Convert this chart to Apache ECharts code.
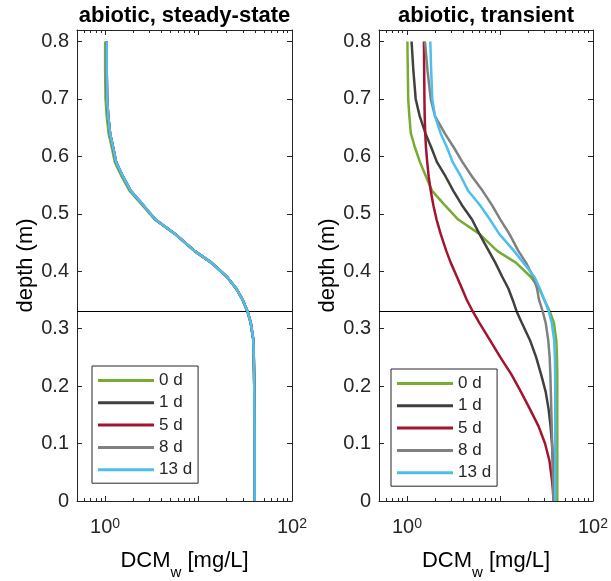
<!DOCTYPE html>
<html>
<head>
<meta charset="utf-8">
<script src="https://cdn.jsdelivr.net/npm/echarts@6/dist/echarts.min.js"></script>
<style>
  html, body { margin: 0; padding: 0; background: #fff; }
  #chart { width: 611px; height: 581px; }
</style>
</head>
<body>
<div id="chart"></div>
<script>
// depth grid (m), shared by every profile
const depth = [0.80, 0.75, 0.70, 0.67, 0.64, 0.615, 0.59, 0.565, 0.54, 0.515, 0.49, 0.465, 0.435, 0.415,
  0.39, 0.37, 0.35, 0.33, 0.31, 0.28, 0.25, 0.22, 0.19, 0.16, 0.13, 0.10, 0.07, 0.04, 0.02, 0];

// steady-state profiles (left)
const ssInit = [1.00, 1.00, 1.01, 1.04, 1.09, 1.18, 1.27, 1.50, 1.83, 2.50, 3.40, 5.6, 9.1, 13.7,
  20.2, 25.2, 29.7, 33.4, 36.2, 38.6, 39.0, 39.3, 39.5, 39.6, 39.7, 39.8, 39.8, 39.8, 39.8, 39.8];
const ssFinal = [1.04, 1.04, 1.05, 1.08, 1.13, 1.22, 1.31, 1.55, 1.88, 2.56, 3.45, 5.6, 9.1, 13.7,
  20.2, 25.2, 29.7, 33.4, 36.2, 38.6, 39.0, 39.3, 39.5, 39.6, 39.7, 39.8, 39.8, 39.8, 39.8, 39.8];

// transient profiles (right)
const tr0 = [1.01, 1.02, 1.03, 1.06, 1.10, 1.22, 1.38, 1.60, 1.86, 2.55, 3.55, 6.0, 9.4, 14.8,
  21.5, 26.3, 30.0, 34.3, 38.0, 40.3, 41.0, 41.3, 41.3, 41.3, 41.3, 41.3, 41.3, 41.3, 41.3, 41.3];
const tr1 = [1.12, 1.17, 1.24, 1.37, 1.58, 1.83, 2.10, 2.60, 3.15, 3.90, 5.0, 6.0, 7.6, 8.9,
  10.6, 12.3, 13.7, 15.1, 17.2, 21.0, 24.5, 27.7, 31.0, 33.3, 35.0, 36.2, 37.0, 37.5, 37.8, 38.0];
const tr5 = [1.52, 1.53, 1.54, 1.55, 1.57, 1.60, 1.65, 1.71, 1.80, 1.92, 2.08, 2.30, 2.65, 2.95,
  3.45, 3.9, 4.4, 5.1, 6.0, 7.8, 10.1, 13.3, 16.8, 21.0, 26.0, 30.5, 34.0, 36.0, 37.0, 37.6];
const tr8 = [1.56, 1.66, 1.80, 2.00, 2.55, 3.20, 3.95, 5.0, 6.5, 8.2, 10.1, 12.6, 15.8, 19.0,
  22.8, 25.0, 26.3, 28.8, 31.0, 33.0, 34.2, 34.8, 35.2, 35.6, 36.0, 36.4, 36.8, 37.1, 37.3, 37.4];
const tr13 = [1.78, 1.82, 1.87, 2.00, 2.30, 2.70, 3.10, 3.80, 4.55, 6.1, 7.8, 9.8, 14.2, 17.8,
  23.5, 26.8, 30.0, 33.5, 36.0, 38.2, 38.9, 39.2, 39.3, 39.3, 39.3, 39.3, 39.3, 39.3, 39.3, 39.3];

const seriesNames = ['0 d', '1 d', '5 d', '8 d', '13 d'];
const colors = ['#77AC30', '#404040', '#A2142F', '#808080', '#4DBEEE'];
const panelTitles = ['abiotic, steady-state', 'abiotic, transient'];
const xLabelExps = [0, 2];
const minorTickVals = [0.6, 0.7, 0.8, 0.9, 2, 3, 4, 5, 6, 7, 8, 9, 20, 30, 40, 50, 60, 70, 80, 90];
const interfaceDepth = 0.33;

const xMin = 0.5, xMax = 100;
const font = '"Liberation Sans", Arial, Helvetica, sans-serif';
const ink = '#262626';

const panels = [
  { left: 77, width: 215, title: panelTitles[0], data: [ssInit, ssFinal, ssFinal, ssFinal, ssFinal], legend: [92, 366] },
  { left: 379, width: 214, title: panelTitles[1], data: [tr0, tr1, tr5, tr8, tr13], legend: [391, 369] }
];
const gridTop = 30, gridHeight = 471;

const chart = echarts.init(document.getElementById('chart'));

const grid = [], xAxis = [], yAxis = [], series = [], legend = [], graphic = [];
const axisLine = { show: true, onZero: false, lineStyle: { color: ink, width: 1 } };
const minorLog = minorTickVals.map(v => Math.log10(v));

panels.forEach((p, gi) => {
  grid.push({ left: p.left, top: gridTop, width: p.width, height: gridHeight, outerBoundsMode: 'none', containLabel: false });

  const mainX = xAxis.length;
  // bottom log axis carrying data and labels
  xAxis.push({
    type: 'log', gridIndex: gi, position: 'bottom', min: xMin, max: xMax, logBase: 10,
    axisLine, splitLine: { show: false },
    axisTick: { inside: true, length: 5, lineStyle: { color: ink } },
    axisLabel: {
      showMinLabel: false, margin: 16, color: ink,
      formatter: v => {
        const l = Math.log10(v), e = Math.round(l);
        return (Math.abs(l - e) < 1e-6 && xLabelExps.includes(e)) ? '{b|10}{s|' + e + '}' : '';
      },
      rich: {
        b: { fontSize: 20, fontFamily: font, color: ink, lineHeight: 20, padding: [9, 0, 0, 0], verticalAlign: 'bottom' },
        s: { fontSize: 14, fontFamily: font, color: ink, lineHeight: 14, verticalAlign: 'top' }
      }
    },
    name: '{n|DCM}{w|w}{n| [mg/L]}', nameLocation: 'middle', nameGap: 49,
    nameTextStyle: {
      rich: {
        n: { fontSize: 22, fontFamily: font, color: '#000', lineHeight: 22, verticalAlign: 'top' },
        w: { fontSize: 15, fontFamily: font, color: '#000', lineHeight: 15, padding: [15, 0, 0, 0], verticalAlign: 'top' }
      }
    }
  });
  // top box axis
  xAxis.push({
    type: 'log', gridIndex: gi, position: 'top', min: xMin, max: xMax, logBase: 10,
    axisLine, splitLine: { show: false }, axisLabel: { show: false },
    axisTick: { inside: true, length: 5, lineStyle: { color: ink } }
  });
  // minor ticks (log-spaced), bottom and top
  ['bottom', 'top'].forEach(pos => {
    xAxis.push({
      type: 'value', gridIndex: gi, position: pos, min: Math.log10(xMin), max: Math.log10(xMax),
      axisLine: { show: false, onZero: false }, splitLine: { show: false }, axisLabel: { show: false },
      axisTick: { inside: true, length: 3, customValues: minorLog, lineStyle: { color: ink } }
    });
  });

  const mainY = yAxis.length;
  yAxis.push({
    type: 'value', gridIndex: gi, position: 'left', min: 0, max: 0.82, interval: 0.1,
    axisLine, splitLine: { show: false },
    axisTick: { inside: true, length: 5, lineStyle: { color: ink } },
    axisLabel: { showMaxLabel: false, margin: 8, fontSize: 20, fontFamily: font, color: ink },
    name: 'depth (m)', nameLocation: 'middle', nameGap: 38,
    nameTextStyle: { fontSize: 22, fontFamily: font, color: '#000' }
  });
  yAxis.push({
    type: 'value', gridIndex: gi, position: 'right', min: 0, max: 0.82, interval: 0.1,
    axisLine, splitLine: { show: false }, axisLabel: { show: false },
    axisTick: { inside: true, length: 5, lineStyle: { color: ink } }
  });

  p.data.forEach((vals, si) => {
    const s = {
      name: seriesNames[si], type: 'line', xAxisIndex: mainX, yAxisIndex: mainY,
      data: vals.map((v, i) => [v, depth[i]]),
      showSymbol: false, symbol: 'none',
      lineStyle: { color: colors[si], width: 2.5 }, itemStyle: { color: colors[si] },
      z: 3 + si
    };
    if (si === 0) {
      s.markLine = {
        silent: true, symbol: ['none', 'none'], label: { show: false },
        lineStyle: { color: '#000', width: 1, type: 'solid' },
        data: [{ yAxis: interfaceDepth }]
      };
    }
    series.push(s);
  });

  legend.push({
    data: seriesNames, orient: 'vertical', left: p.legend[0], top: p.legend[1],
    icon: 'rect', itemWidth: 56, itemHeight: 3, itemGap: 5.3,
    padding: [6, 6, 5, 6], borderColor: ink, borderWidth: 1, backgroundColor: '#fff',
    selectedMode: false,
    textStyle: { fontSize: 17, lineHeight: 17, fontFamily: font, color: ink }
  });

  graphic.push({
    type: 'text', x: p.left + p.width / 2, y: 5,
    style: { text: p.title, font: 'bold 22px ' + font, textAlign: 'center', textVerticalAlign: 'top', fill: '#000' }
  });
});

chart.setOption({
  animation: false,
  backgroundColor: '#fff',
  grid, xAxis, yAxis, series, legend, graphic
});
</script>
</body>
</html>
